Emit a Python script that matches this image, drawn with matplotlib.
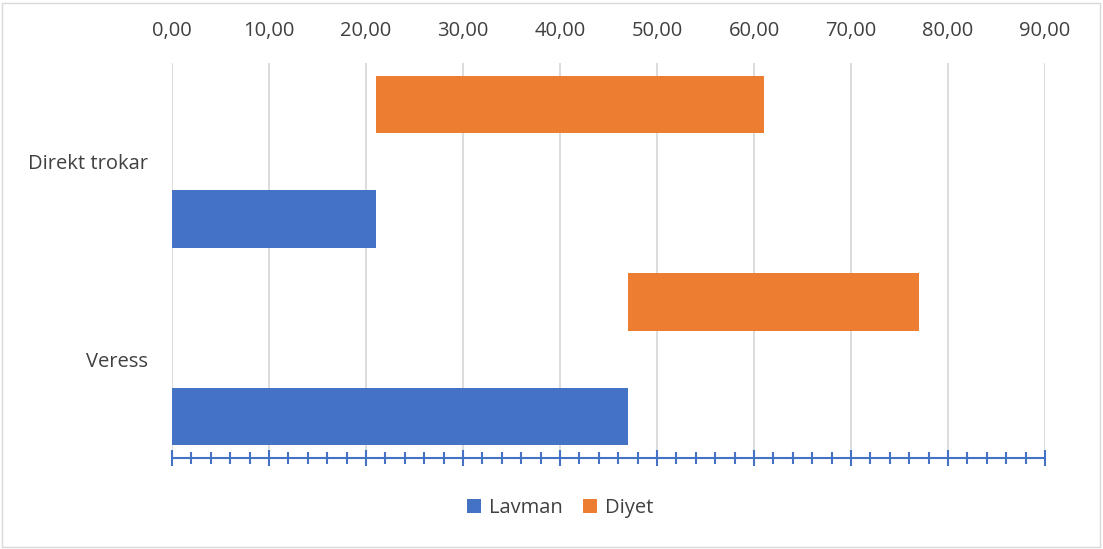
import matplotlib.pyplot as plt
from matplotlib.ticker import FuncFormatter, MultipleLocator
from matplotlib.patches import Rectangle

categories = ['Veress', 'Direkt trokar']
lavman = [47, 21]
diyet = [30, 40]
series_names = ['Lavman', 'Diyet']

plt.rcParams['font.family'] = ['Open Sans', 'DejaVu Sans']

fig = plt.figure(figsize=(11.03, 5.49), dpi=100)
ax = fig.add_axes([172 / 1103, 1 - 458 / 549, (1045 - 172) / 1103, (458 - 63) / 549])
ax2 = ax.twiny()  # used for the blue tick line at the bottom

blue = '#4472C4'
orange = '#ED7D31'
h = 0.29
ypos = list(range(len(categories)))

ax.barh([y - h for y in ypos], lavman, height=h, color=blue, label=series_names[0], zorder=3)
ax.barh([y + h for y in ypos], diyet, left=lavman, height=h, color=orange, label=series_names[1], zorder=3)

ax.set_xlim(0, 90)
ax.set_ylim(-0.5, 1.5)
ax.set_yticks(ypos)
ax.set_yticklabels(categories, fontsize=14.5, color='#404040')
ax.tick_params(axis='y', length=0, pad=17)

# top axis labels
ax.xaxis.set_major_locator(MultipleLocator(10))
ax.xaxis.set_ticks_position('top')
ax.tick_params(axis='x', which='both', top=False, bottom=False, labeltop=True, labelbottom=False,
               labelsize=14.5, labelcolor='#404040', pad=12)
ax.xaxis.set_major_formatter(FuncFormatter(lambda v, p: f'{v:.2f}'.replace('.', ',')))

ax.grid(axis='x', color='#D9D9D9', linewidth=1.3, zorder=0)
for s in ['top', 'left', 'right', 'bottom']:
    ax.spines[s].set_visible(False)

# blue bottom axis with ticks crossing the line
ax2.set_xlim(0, 90)
ax2.xaxis.set_ticks_position('bottom')
ax2.xaxis.set_major_locator(MultipleLocator(10))
ax2.xaxis.set_minor_locator(MultipleLocator(2))
ax2.tick_params(axis='x', which='major', direction='inout', length=12, width=1.5, color=blue,
                labelbottom=False, labeltop=False, top=False)
ax2.tick_params(axis='x', which='minor', direction='inout', length=9, width=1.5, color=blue, top=False)
for s in ['top', 'left', 'right']:
    ax2.spines[s].set_visible(False)
ax2.spines['bottom'].set_color(blue)
ax2.spines['bottom'].set_linewidth(1.5)

fig.legend(loc='center', bbox_to_anchor=(0.508, 1 - 508 / 549), ncol=2, frameon=False,
           fontsize=14.5, handlelength=0.7, handleheight=0.7, columnspacing=1.0, handletextpad=0.4,
           labelcolor='#404040')

fig.patches.append(Rectangle((0.002, 0.003), 0.995, 0.992, transform=fig.transFigure,
                             fill=False, edgecolor='#D9D9D9', linewidth=1))

fig.savefig('out.png', dpi=100)
